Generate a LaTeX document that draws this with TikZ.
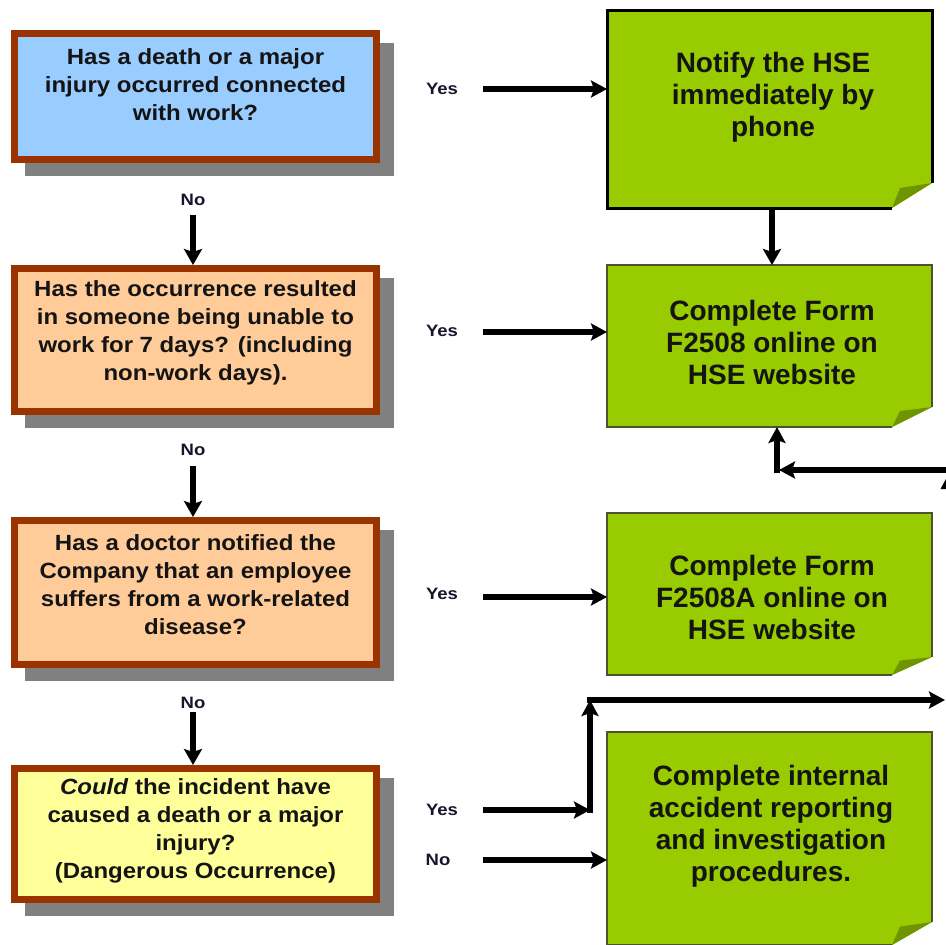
\documentclass[tikz,border=0pt]{standalone}
\usepackage{fontspec}
\setmainfont{Liberation Sans}
\newfontfamily\qfont{Liberation Sans}[FakeStretch=1.09]
\newfontfamily\lblfont{Liberation Sans}[FakeStretch=1.12]
\usetikzlibrary{arrows.meta,backgrounds}
\definecolor{bluec}{HTML}{99CCFF}
\definecolor{peachc}{HTML}{FFCC99}
\definecolor{yellowc}{HTML}{FFFF99}
\definecolor{brownc}{HTML}{993300}
\definecolor{shadowc}{HTML}{808080}
\definecolor{greenc}{HTML}{99CC00}
\definecolor{foldc}{HTML}{6E9400}
\definecolor{gborder}{HTML}{4A5530}
\definecolor{lblc}{HTML}{15152E}
\definecolor{txtc}{HTML}{141414}
\newcommand\GreenShape[3]{%
  \fill[greenc] (#1.north west) -- (#1.north east) -- ([yshift=#2pt]#1.south east)
     -- ([xshift=-40pt]#1.south east) -- (#1.south west) -- cycle;
  \fill[foldc] ([yshift=#2pt]#1.south east) -- ([xshift=-32pt,yshift=0.8*#2pt]#1.south east)
     -- ([xshift=-40pt]#1.south east) -- cycle;
  \draw[#3] ([xshift=-40pt]#1.south east) -- (#1.south west) -- (#1.north west)
     -- (#1.north east) -- ([yshift=#2pt]#1.south east);
}
\begin{document}
\begin{tikzpicture}[x=1pt,y=-1pt,
  qbox/.style={draw=brownc, line width=7pt, inner sep=0pt, minimum width=362pt},
  qtext/.style={align=center, text=txtc, font=\qfont\bfseries\fontsize{22}{28}\selectfont},
  gbox/.style={inner sep=0pt, outer sep=0pt, minimum width=325pt},
  gtext/.style={align=center, text=txtc, font=\bfseries\fontsize{28}{32}\selectfont},
  lbl/.style={text=lblc, font=\lblfont\bfseries\fontsize{16.5}{18}\selectfont, inner sep=0pt},
  arr/.style={line width=5.5pt, -{Stealth[length=16pt,width=17pt,inset=3pt]}},
  downarr/.style={line width=6.5pt, -{Stealth[length=16pt,width=18pt,inset=3pt]}},
  thinb/.style={draw=gborder, line width=1.2pt},
  thickb/.style={draw=black, line width=3pt, line join=miter}
]
\useasboundingbox (0,0) rectangle (946,945);
\clip (0,0) rectangle (946,945);

% question boxes
\node[qbox, fill=bluec,   minimum height=126pt] (b1) at (195.5,96.5) {};
\node[qbox, fill=peachc,  minimum height=143pt] (b2) at (195.5,340) {};
\node[qbox, fill=peachc,  minimum height=144pt] (b3) at (195.5,592.5) {};
\node[qbox, fill=yellowc, minimum height=131pt] (b4) at (195.5,834) {};
\begin{scope}[on background layer]
  \foreach \b in {b1,b2,b3,b4}{
    \fill[shadowc] ([shift={(14pt,-12.5pt)}]\b.south west) rectangle ([shift={(14pt,-12.5pt)}]\b.north east);
  }
\end{scope}
\node[qtext] (b1t) at (195.5,85) {Has a death or a major\\injury occurred connected\\with work?};
\node[qtext] (b2t) at (195.5,333) {Has the occurrence resulted\\in someone being unable to\\work for 7 days? (including\\non-work days).};
\node[qtext] (b3t) at (195.5,585) {Has a doctor notified the\\Company that an employee\\suffers from a work-related\\disease?};
\node[qtext] (b4t) at (195.5,831) {\textit{Could} the incident have\\caused a death or a major\\injury?\\(Dangerous Occurrence)};

% action boxes
\node[gbox, minimum height=198pt] (g1) at (769.5,109) {};
\node[gbox, minimum height=162pt] (g2) at (769.5,346) {};
\node[gbox, minimum height=162pt] (g3) at (769.5,594) {};
\node[gbox, minimum height=213pt] (g4) at (769.5,838.5) {};
\GreenShape{g1}{25}{thickb}
\GreenShape{g2}{20}{thinb}
\GreenShape{g3}{18}{thinb}
\GreenShape{g4}{23}{thinb}
\node[gtext] (g1t) at (773,97.5) {Notify the HSE\\immediately by\\phone};
\node[gtext] (g2t) at (772,342) {Complete Form\\F2508 online on\\HSE website};
\node[gtext] (g3t) at (772,597) {Complete Form\\F2508A online on\\HSE website};
\node[gtext] (g4t) at (771,826) {Complete internal\\accident reporting\\and investigation\\procedures.};

% labels
\node[lbl] (no1) at (193,200) {No};
\node[lbl] (no2) at (193,450) {No};
\node[lbl] (no3) at (193,703) {No};
\node[lbl] (yes1) at (442,89) {Yes};
\node[lbl] (yes2) at (442,331) {Yes};
\node[lbl] (yes3) at (442,594) {Yes};
\node[lbl] (yes4) at (442,810) {Yes};
\node[lbl] (no4) at (438,860) {No};

% down arrows (No)
\coordinate (n1) at (193,215);
\coordinate (n2) at (193,466);
\coordinate (n3) at (193,712);
\draw[downarr] (n1) -- (n1 |- b2.north);
\draw[downarr] (n2) -- (n2 |- b3.north);
\draw[downarr] (n3) -- (n3 |- b4.north);

% yes arrows
\coordinate (s1) at (483,89);
\coordinate (s2) at (483,332);
\coordinate (s3) at (483,597);
\coordinate (s4) at (483,810);
\coordinate (s5) at (483,860);
\draw[arr] (s1) -- (s1 -| g1.west);
\draw[arr] (s2) -- (s2 -| g2.west);
\draw[arr] (s3) -- (s3 -| g3.west);
\draw[arr] (s5) -- (s5 -| g4.west);
\coordinate (c4a) at (590,810);
\coordinate (c4c) at (590,812.75);
\coordinate (c4b) at (590,700);
\coordinate (e4) at (945,700);
\draw[arr] (s4) -- (c4a);
\draw[arr] (c4c) -- (c4b);
\draw[arr] ([xshift=-2.75pt]c4b) -- (e4);

% G1 -> G2
\draw[downarr] ([xshift=2.5pt]g1.south) -- ([xshift=2.5pt]g2.north);

% return arrow into G2
\coordinate (r1) at (946,470);
\coordinate (c5) at (779,470);
\coordinate (c5b) at (777,472.75);
\draw[arr] (r1) -- (c5);
\draw[arr] (c5b) -- (c5b |- g2.south);
\fill (947,477) -- (940.5,489) -- (953.5,489) -- cycle;
\end{tikzpicture}
\end{document}
